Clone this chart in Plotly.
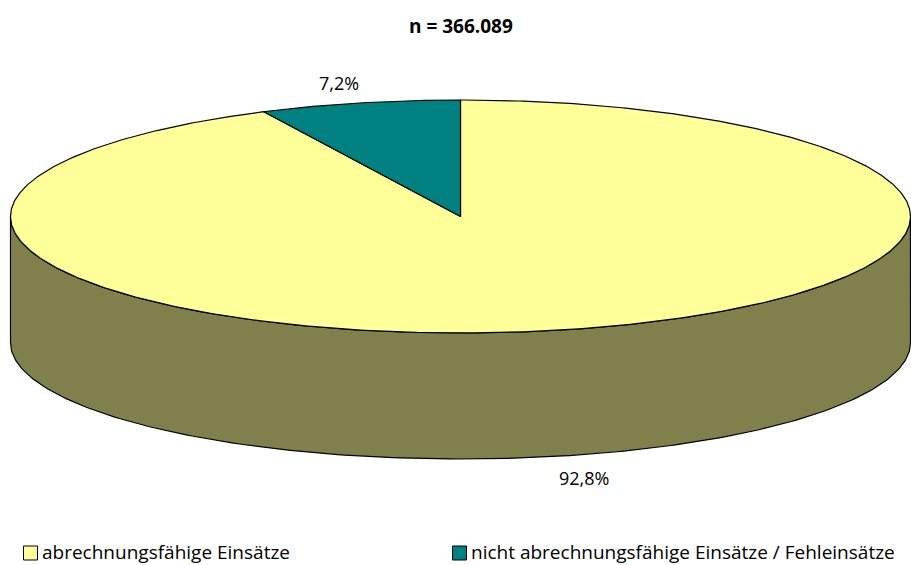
import numpy as np
import plotly.graph_objects as go

# Shares of all missions (total n = 366.089)
categories = ["abrechnungsfähige Einsätze", "nicht abrechnungsfähige Einsätze / Fehleinsätze"]
shares = [92.8, 7.2]
share_labels = ["92,8%", "7,2%"]
total_label = "n = 366.089"

top_colors = ["#FFFF99", "#008080"]
side_colors = ["#80804C", "#004040"]
FONT = "Open Sans"

W, H = 911, 565
cx, cy = 460.5, 216.5      # centre of the top face
rx, ry = 450.0, 116.5      # radii of the top ellipse
depth = 126.0              # thickness of the disc


def ell(theta_deg, dy=0.0):
    """Point on the ellipse, angle measured clockwise from 12 o'clock."""
    t = np.radians(theta_deg)
    return cx + rx * np.sin(t), cy - ry * np.cos(t) + dy


# slice angular extents: the second slice ends at 12 o'clock, the first runs clockwise from there
fractions = np.array(shares) / sum(shares)
spans = fractions * 360.0
starts = [0.0, spans[0]]
ends = [spans[0], 360.0]

fig = go.Figure()

# front wall of the disc (visible half: 90°..270°), belonging to the large slice
a = np.linspace(90, 270, 200)
tx, ty = ell(a)
bx, by = ell(a[::-1], depth)
fig.add_trace(go.Scatter(
    x=np.concatenate([tx, bx, tx[:1]]), y=np.concatenate([ty, by, ty[:1]]),
    mode="lines", fill="toself", fillcolor=side_colors[0],
    line=dict(color="black", width=1.2), hoverinfo="skip", showlegend=False))

# top faces of the slices
for i in range(len(shares)):
    a = np.linspace(starts[i], ends[i], max(int(spans[i] * 2), 20))
    ex, ey = ell(a)
    xs = np.concatenate([[cx], ex, [cx]])
    ys = np.concatenate([[cy], ey, [cy]])
    fig.add_trace(go.Scatter(
        x=xs, y=ys, mode="lines", fill="toself", fillcolor=top_colors[i],
        line=dict(color="black", width=1.2), hoverinfo="skip", showlegend=False))

# percentage labels at each slice's middle angle, pushed outside the disc
label_offsets = [(23, 22), (-21, -20)]
for i in range(len(shares)):
    mid = (starts[i] + ends[i]) / 2
    lx, ly = ell(mid)
    if 90 < mid < 270:
        ly += depth
    fig.add_annotation(x=lx + label_offsets[i][0], y=ly + label_offsets[i][1],
                       text=share_labels[i], showarrow=False,
                       font=dict(family=FONT, size=18, color="black"),
                       xanchor="center", yanchor="middle")

# title
fig.add_annotation(x=W / 2 + 5, y=26, text="<b>" + total_label + "</b>", showarrow=False,
                   font=dict(family=FONT, size=19, color="black"),
                   xanchor="center", yanchor="middle")

# legend: coloured squares with category names
legend_x = [30.5, 459.5]
legend_y = 553
fig.add_trace(go.Scatter(
    x=legend_x, y=[legend_y] * 2, mode="markers",
    marker=dict(symbol="square", size=14, color=top_colors,
                line=dict(color="black", width=1)),
    hoverinfo="skip", showlegend=False))
for i, name in enumerate(categories):
    fig.add_annotation(x=legend_x[i] + 10, y=legend_y - 1.5, text=name, showarrow=False,
                       font=dict(family=FONT, size=19, color="black"),
                       xanchor="left", yanchor="middle", borderpad=0)

fig.update_layout(
    width=W, height=H, margin=dict(l=0, r=0, t=0, b=0),
    paper_bgcolor="white", plot_bgcolor="white",
    xaxis=dict(range=[0, W], visible=False, fixedrange=True),
    yaxis=dict(range=[H, 0], visible=False, fixedrange=True),
    showlegend=False,
)

fig.write_html("out.html")
